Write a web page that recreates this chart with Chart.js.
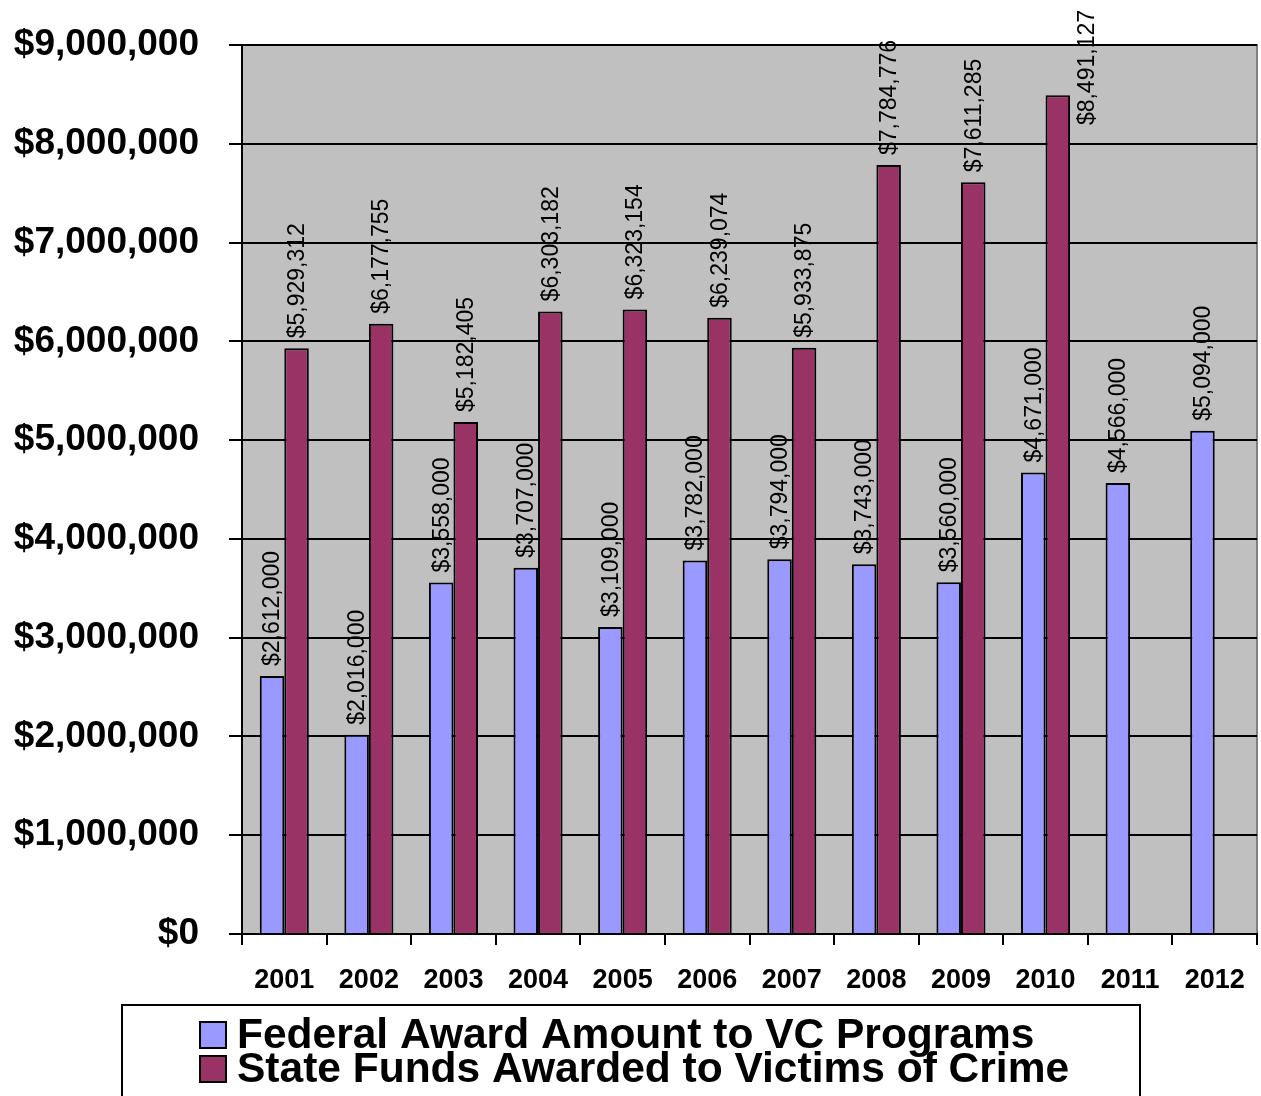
<!DOCTYPE html>
<html>
<head>
<meta charset="utf-8">
<script src="https://cdn.jsdelivr.net/npm/chart.js@4"></script>
<style>
  html, body { margin: 0; padding: 0; background: #fff; }
  #wrap { width: 1261px; height: 1096px; position: relative; }
</style>
</head>
<body>
<div id="wrap"><canvas id="myChart" width="1261" height="1096"></canvas></div>
<script>
// datos del grafico
const anios = ["2001", "2002", "2003", "2004", "2005", "2006", "2007", "2008", "2009", "2010", "2011", "2012"];
const federal = [2612000, 2016000, 3558000, 3707000, 3109000, 3782000, 3794000, 3743000, 3560000, 4671000, 4566000, 5094000];
const estatal = [5929312, 6177755, 5182405, 6303182, 6323154, 6239074, 5933875, 7784776, 7611285, 8491127, null, null];
const nombreFederal = "Federal Award Amount to VC Programs";
const nombreEstatal = "State Funds Awarded to Victims of Crime";
const ticksY = [0, 1000000, 2000000, 3000000, 4000000, 5000000, 6000000, 7000000, 8000000, 9000000];

const fuente = "Arial, 'Liberation Sans', sans-serif";

function dinero(v) {
  return "$" + Number(v).toLocaleString("en-US");
}

// fondo gris del area del grafico
const fondoPlugin = {
  id: "fondo",
  beforeDraw(chart) {
    const { ctx, chartArea: a } = chart;
    ctx.save();
    ctx.fillStyle = "#c0c0c0";
    ctx.fillRect(a.left, a.top, a.right - a.left, a.bottom - a.top);
    ctx.strokeStyle = "#808080";
    ctx.lineWidth = 2;
    ctx.beginPath();
    ctx.moveTo(a.left, a.top);
    ctx.lineTo(a.right, a.top);
    ctx.lineTo(a.right, a.bottom);
    ctx.stroke();
    ctx.restore();
  }
};

// etiquetas verticales sobre cada barra
const etiquetasPlugin = {
  id: "etiquetas",
  afterDatasetsDraw(chart) {
    const ctx = chart.ctx;
    ctx.save();
    ctx.font = "23px " + fuente;
    ctx.fillStyle = "#000";
    ctx.textAlign = "left";
    ctx.textBaseline = "middle";
    chart.data.datasets.forEach((ds, i) => {
      const meta = chart.getDatasetMeta(i);
      meta.data.forEach((bar, j) => {
        const v = ds.data[j];
        if (v == null) return;
        const texto = dinero(v);
        const largo = ctx.measureText(texto).width;
        let x = bar.x + 1;
        let y = bar.y - 10;
        // si no cabe arriba, se corre al lado derecho de la barra (como excel)
        if (y - largo < 8) {
          x = bar.x + bar.width / 2 + 18;
          y = 10 + largo;
        }
        ctx.save();
        ctx.translate(x, y);
        ctx.rotate(-Math.PI / 2);
        ctx.fillText(texto, 0, 0);
        ctx.restore();
      });
    });
    ctx.restore();
  }
};

// leyenda con recuadro abajo
const leyendaPlugin = {
  id: "leyendaCaja",
  afterDraw(chart) {
    const ctx = chart.ctx;
    ctx.save();
    ctx.strokeStyle = "#000";
    ctx.lineWidth = 2;
    ctx.strokeRect(122, 1005, 1018, 100);
    ctx.font = "bold 42.5px " + fuente;
    ctx.textBaseline = "alphabetic";
    ctx.textAlign = "left";
    const bases = [1048, 1082];
    chart.data.datasets.forEach((ds, i) => {
      const y = bases[i];
      ctx.fillStyle = ds.backgroundColor;
      ctx.fillRect(200, y - 26, 26, 26);
      ctx.strokeRect(200, y - 26, 26, 26);
      ctx.fillStyle = "#000";
      ctx.fillText(ds.label, 237, y);
    });
    ctx.restore();
  }
};

const config = {
  type: "bar",
  data: {
    labels: anios,
    datasets: [
      {
        label: nombreFederal,
        data: federal,
        backgroundColor: "#9999ff",
        borderColor: "#000",
        borderWidth: 2,
        borderSkipped: "bottom",
        barPercentage: 1,
        categoryPercentage: 0.58
      },
      {
        label: nombreEstatal,
        data: estatal,
        backgroundColor: "#993366",
        borderColor: "#000",
        borderWidth: 2,
        borderSkipped: "bottom",
        barPercentage: 1,
        categoryPercentage: 0.58
      }
    ]
  },
  options: {
    responsive: false,
    animation: false,
    layout: { padding: { top: 45, right: 4, left: 0, bottom: 0 } },
    plugins: {
      legend: { display: false },
      tooltip: { enabled: false }
    },
    scales: {
      x: {
        grid: {
          offset: true,
          drawOnChartArea: false,
          drawTicks: true,
          tickLength: 11,
          color: "#000",
          lineWidth: 2
        },
        border: { color: "#000", width: 2 },
        ticks: {
          color: "#000",
          font: { family: fuente, size: 27, weight: "bold" },
          padding: 19,
          maxRotation: 0
        },
        afterFit(scale) {
          scale.height = 162;
          scale.paddingLeft = 0;
          scale.paddingRight = 0;
        }
      },
      y: {
        min: 0,
        max: 9000000,
        grid: {
          color: "#000",
          lineWidth: 2,
          drawTicks: true,
          tickLength: 13
        },
        border: { color: "#000", width: 2 },
        afterBuildTicks(scale) {
          scale.ticks = ticksY.map(v => ({ value: v }));
        },
        ticks: {
          color: "#000",
          font: { family: fuente, size: 37, weight: "bold" },
          padding: 30,
          callback: v => dinero(v)
        },
        afterFit(scale) {
          scale.width = 242;
          scale.paddingTop = 0;
          scale.paddingBottom = 0;
        }
      }
    }
  },
  plugins: [fondoPlugin, etiquetasPlugin, leyendaPlugin]
};

const grafico = new Chart(document.getElementById("myChart"), config);
</script>
</body>
</html>
